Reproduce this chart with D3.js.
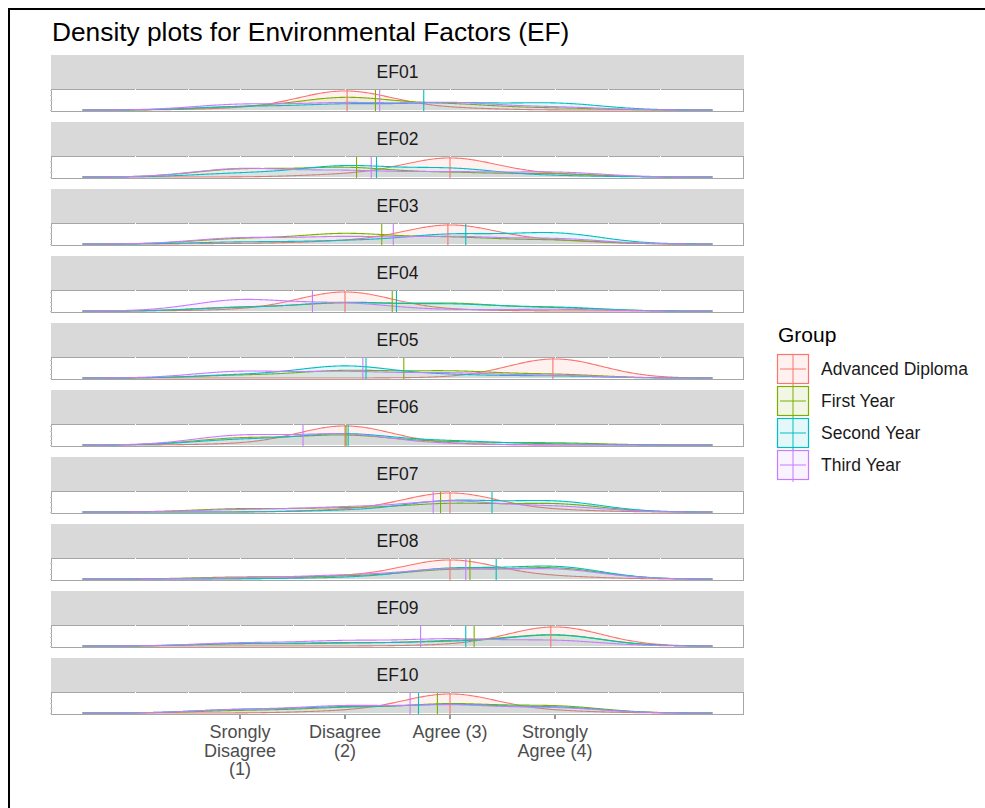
<!DOCTYPE html>
<html>
<head>
<meta charset="utf-8">
<script src="https://cdn.jsdelivr.net/npm/d3@7"></script>
<style>
  html, body { margin: 0; padding: 0; background: #fff; }
  svg { display: block; font-family: "Liberation Sans", Arial, sans-serif; }
</style>
</head>
<body>
<svg id="chart" width="985" height="808"></svg>
<script>
// ---- data -------------------------------------------------------------
const items = ["EF01", "EF02", "EF03", "EF04", "EF05", "EF06", "EF07", "EF08", "EF09", "EF10"];
const groups = ["Advanced Diploma", "First Year", "Second Year", "Third Year"];
const groupColors = ["#F8766D", "#7CAE00", "#00BFC4", "#C77CFF"];
const responseLevels = [1, 2, 3, 4];
const tickValues = [1, 2, 3, 4];
const tickLabels = [["Srongly", "Disagree", "(1)"], ["Disagree", "(2)"], ["Agree (3)"], ["Strongly", "Agree (4)"]];

// share of responses (%) at levels 1..4, one row per item
const advancedDiploma = [
  [6, 86, 8, 0], [0, 10, 80, 10], [2, 10, 76, 12], [5, 90, 5, 0], [0, 0, 2, 98],
  [4, 92, 4, 0], [0, 8, 84, 8], [0, 10, 80, 10], [0, 0, 4, 96], [0, 8, 84, 8]
];
const firstYear = [
  [12, 55, 25, 8], [32, 38, 17, 13], [20, 40, 25, 15], [17, 35, 34, 14], [13, 36, 33, 18],
  [32, 45, 13, 10], [14, 16, 35, 35], [8, 10, 37, 45], [10, 12, 23, 55], [10, 22, 38, 30]
];
const secondYear = [
  [15, 25, 30, 30], [15, 45, 35, 5], [8, 12, 37, 43], [15, 38, 30, 17], [15, 60, 15, 10],
  [25, 52, 18, 5], [0, 6, 48, 46], [1, 5, 43, 51], [12, 15, 19, 54], [15, 25, 35, 25]
];
const thirdYear = [
  [25, 30, 32, 13], [35, 25, 20, 20], [24, 27, 28, 21], [52, 35, 5, 8], [33, 30, 24, 13],
  [45, 50, 5, 0], [10, 20, 46, 24], [5, 15, 40, 40], [15, 25, 33, 27], [15, 30, 33, 22]
];
const groupShares = [advancedDiploma, firstYear, secondYear, thirdYear];
// Gaussian kernel bandwidth
const bandwidth = 0.45;

// ---- layout -------------------------------------------------------------
const svg = d3.select("#chart");
const panelLeft = 51, panelRight = 744;
const firstTop = 55, stripH = 34, panelH = 23, facetStep = 67;

// outer frame
svg.append("path")
  .attr("d", "M9,808 V9 H985")
  .attr("fill", "none").attr("stroke", "#000").attr("stroke-width", 2);

svg.append("text")
  .attr("x", 52).attr("y", 41)
  .attr("font-size", 26.3).attr("fill", "#000")
  .text("Density plots for Environmental Factors (EF)");

const x = d3.scaleLinear().domain([-0.8, 5.8]).range([panelLeft, panelRight]);

// density estimate evaluated over the x limits
const evalX = d3.range(512).map(i => -0.5 + 6 * i / 511);
const gauss = u => Math.exp(-0.5 * u * u) / Math.sqrt(2 * Math.PI);
function density(shares, bw) {
  const total = d3.sum(shares);
  return evalX.map(v => [v, d3.sum(shares, (s, k) => (s / total) * gauss((v - responseLevels[k]) / bw) / bw)]);
}
function meanOf(shares) {
  return d3.sum(shares, (s, k) => s * responseLevels[k]) / d3.sum(shares);
}

const gridVals = d3.range(0, 5.01, 0.5);

items.forEach((item, i) => {
  const top = firstTop + i * facetStep;
  const pTop = top + stripH, pBottom = pTop + panelH;
  const g = svg.append("g");

  // strip
  g.append("rect").attr("x", panelLeft).attr("y", top)
    .attr("width", panelRight - panelLeft).attr("height", stripH).attr("fill", "#D9D9D9");
  g.append("text").attr("x", (panelLeft + panelRight) / 2).attr("y", top + stripH / 2 + 6)
    .attr("text-anchor", "middle").attr("font-size", 17.5).attr("fill", "#1A1A1A").text(item);

  // panel
  g.append("rect").attr("x", panelLeft + 0.5).attr("y", pTop + 0.5)
    .attr("width", panelRight - panelLeft - 1).attr("height", panelH - 1)
    .attr("fill", "#fff").attr("stroke", "#A6A6A6").attr("stroke-width", 1);
  g.selectAll("line.grid").data(gridVals).join("line")
    .attr("x1", d => Math.round(x(d)) + 0.5).attr("x2", d => Math.round(x(d)) + 0.5)
    .attr("y1", pTop).attr("y2", pTop + 2)
    .attr("stroke", "#fff").attr("stroke-width", 1);

  const curves = groups.map((grp, gi) => density(groupShares[gi][i], bandwidth));
  const yMax = d3.max(curves, c => d3.max(c, d => d[1]));
  const y = d3.scaleLinear().domain([-0.05 * yMax, 1.05 * yMax]).range([pBottom - 1, pTop + 1]);

  // small y ticks on the left edge
  g.selectAll("line.ytick").data(y.ticks(4)).join("line")
    .attr("x1", panelLeft - 1).attr("x2", panelLeft + 1)
    .attr("y1", d => Math.round(y(d)) + 0.5).attr("y2", d => Math.round(y(d)) + 0.5)
    .attr("stroke", "#C8C8C8").attr("stroke-width", 1);

  const area = d3.area().x(d => x(d[0])).y0(y(0)).y1(d => y(d[1]));
  const line = d3.line().x(d => x(d[0])).y(d => y(d[1]));
  curves.forEach((c, gi) => {
    g.append("path").datum(c).attr("d", area)
      .attr("fill", groupColors[gi]).attr("fill-opacity", 0.1);
    g.append("path").datum(c).attr("d", line)
      .attr("fill", "none").attr("stroke", groupColors[gi]).attr("stroke-width", 1.1);
  });
  groups.forEach((grp, gi) => {
    const m = meanOf(groupShares[gi][i]);
    g.append("line")
      .attr("x1", x(m)).attr("x2", x(m))
      .attr("y1", pTop + 1).attr("y2", pBottom - 1)
      .attr("stroke", groupColors[gi]).attr("stroke-width", 1.1);
  });
});

// bottom axis
const axisY = firstTop + 9 * facetStep + stripH + panelH;
const axis = svg.append("g");
tickValues.forEach((v, k) => {
  axis.append("line").attr("x1", x(v)).attr("x2", x(v))
    .attr("y1", axisY).attr("y2", axisY + 4).attr("stroke", "#333").attr("stroke-width", 1);
  const t = axis.append("text").attr("text-anchor", "middle")
    .attr("font-size", 18).attr("fill", "#4D4D4D");
  tickLabels[k].forEach((ln, j) => {
    t.append("tspan").attr("x", x(v)).attr("y", axisY + 23 + j * 18.5).text(ln);
  });
});

// legend
const legend = svg.append("g");
legend.append("text").attr("x", 778).attr("y", 342).attr("font-size", 21).attr("fill", "#000").text("Group");
const keyX = 777, keyY0 = 354, keyStep = 32, keyW = 32, keyH = 30;
groups.forEach((grp, gi) => {
  const ky = keyY0 + gi * keyStep;
  const c = groupColors[gi];
  legend.append("rect").attr("x", keyX + 0.5).attr("y", ky + 0.5)
    .attr("width", keyW - 1).attr("height", keyH - 1)
    .attr("fill", c).attr("fill-opacity", 0.1).attr("stroke", c).attr("stroke-width", 1.2);
  legend.append("line").attr("x1", keyX + 3).attr("x2", keyX + keyW - 3)
    .attr("y1", ky + keyH / 2).attr("y2", ky + keyH / 2).attr("stroke", c).attr("stroke-width", 1);
  legend.append("line").attr("x1", keyX + keyW / 2).attr("x2", keyX + keyW / 2)
    .attr("y1", ky).attr("y2", ky + keyStep).attr("stroke", c).attr("stroke-width", 1);
  legend.append("text").attr("x", 821).attr("y", ky + keyH / 2 + 6)
    .attr("font-size", 17.5).attr("fill", "#1A1A1A").text(grp);
});
</script>
</body>
</html>
